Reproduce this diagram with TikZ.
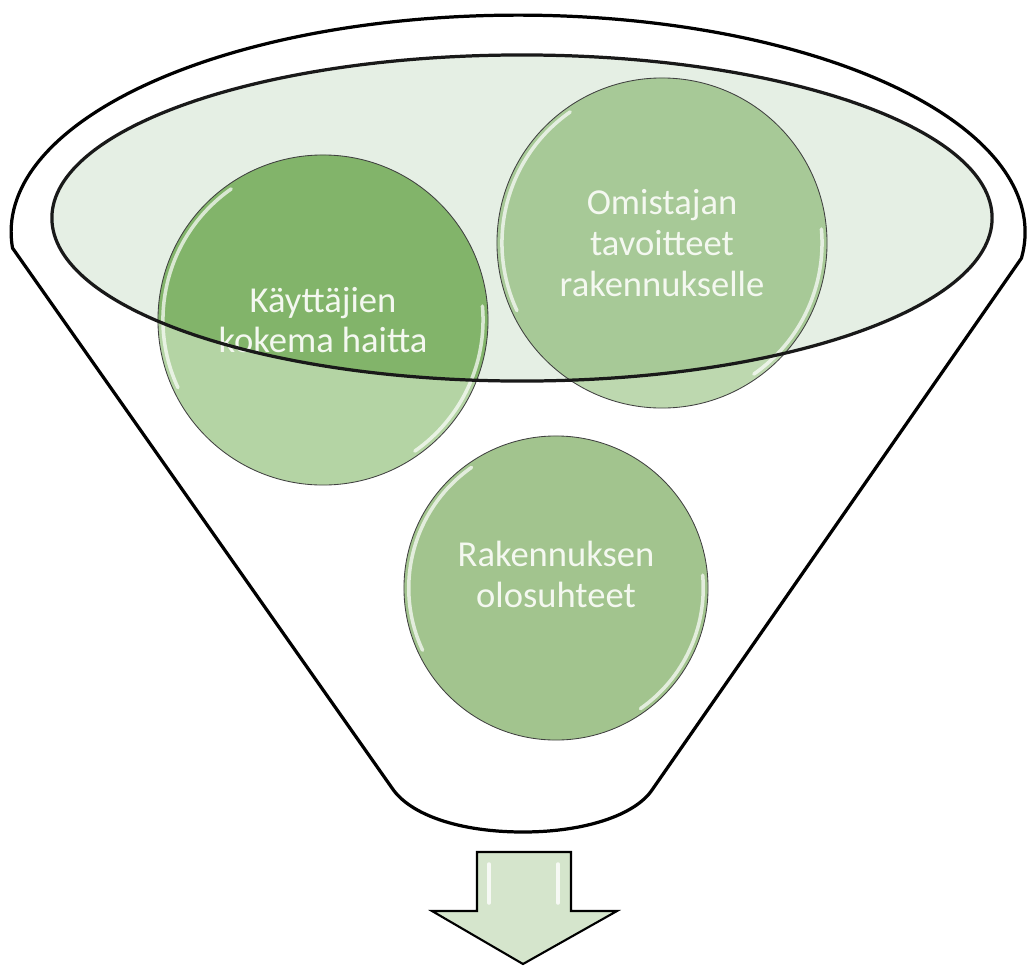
\documentclass[tikz,border=0pt]{standalone}
\usepackage{fontspec}
\setmainfont{Carlito}
\usetikzlibrary{shapes.geometric, positioning, calc}
\definecolor{rimgreen}{HTML}{E5EFE4}
\definecolor{kaydark}{HTML}{82B46A}
\definecolor{kaylight}{HTML}{B4D4A4}
\definecolor{omidark}{HTML}{A7C997}
\definecolor{omilight}{HTML}{BDD8AF}
\definecolor{rakgreen}{HTML}{A2C48E}
\definecolor{arrowgreen}{HTML}{D5E5CC}
\definecolor{textwhite}{HTML}{F4F8F0}
\tikzset{
	bubble/.style={circle, draw=black!75, line width=0.6pt,
		minimum size=#1, inner sep=0pt, align=center,
		text=textwhite, font=\fontsize{26}{29}\selectfont},
	shine/.style={white, opacity=0.7, line width=2.5pt, line cap=round},
	glossy/.style n args={2}{path picture={
			\fill[#2] (rim.center) ellipse [x radius=11.75cm, y radius=4.075cm];
			\draw[shine] ([shift={(125:#1)}]path picture bounding box.center)
			arc [start angle=125, end angle=205, radius=#1];
			\draw[shine] ([shift={(-55:#1)}]path picture bounding box.center)
			arc [start angle=-55, end angle=5, radius=#1];
	}},
	funnelline/.style={line width=2.3pt, line join=round},
	rimline/.style={draw=black!90, line width=2.3pt},
	outarrow/.style={line width=1.5pt, fill=arrowgreen, line join=miter}
}
\begin{document}
\begin{tikzpicture}[x=0.025cm, y=-0.025cm]
	\useasboundingbox (0,0) rectangle (1027,968);
	
	%% inner rim of the funnel (fill only, outline comes last)
	\node[ellipse, fill=rimgreen, minimum width=23.5cm,
	minimum height=8.15cm, inner sep=0pt] (rim) at (522,218) {};
	
	%% funnel body
	\draw[funnelline] (12.5,248)
	arc [start angle=175.8, end angle=366.9, x radius=507, y radius=217]
	-- (652,790) .. controls (635,815) and (585,832) .. (523,832)
	.. controls (460,832) and (410,815) .. (392,788) -- cycle;
	
	%% the three factors
	\node[bubble=8.25cm, fill=kaylight, glossy={4cm}{kaydark}]
	(kay) at (323,320) {Käyttäjien\\kokema haitta};
	\node[bubble=8.25cm, fill=omilight, glossy={4cm}{omidark}]
	(omi) at (662,243) {Omistajan\\tavoitteet\\rakennukselle};
	\node[bubble=7.6cm, fill=rakgreen, glossy={3.68cm}{rakgreen}]
	(rak) at (556,588) {Rakennuksen\\olosuhteet\\[-9pt]};
	
	%% rim outline on top of the circles
	\draw[rimline] (rim.center) ellipse [x radius=11.75cm, y radius=4.075cm];
	
	%% output arrow
	\draw[outarrow] (477,852) -- (571,852) -- (571,911) -- (617,911)
	-- (523,964) -- (432,911) -- (477,911) -- cycle;
	\draw[shine, opacity=0.8] (489,864) -- (489,903);
	\draw[shine, opacity=0.8] (558,864) -- (558,903);
	
\end{tikzpicture}
\end{document}
